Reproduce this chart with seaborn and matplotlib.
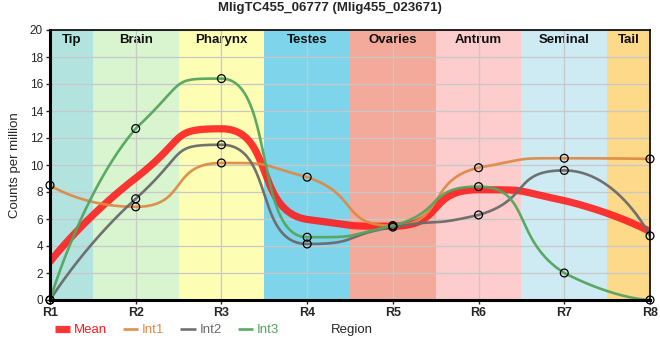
import matplotlib
matplotlib.use("Agg")
import matplotlib.pyplot as plt
import numpy as np
import pandas as pd
import seaborn as sns

# data
regions = ['R1', 'R2', 'R3', 'R4', 'R5', 'R6', 'R7', 'R8']
int1 = [8.5, 6.9, 10.15, 9.1, 5.5, 9.8, 10.5, 10.45]
int2 = [0.0, 7.5, 11.5, 4.15, 5.4, 6.3, 9.6, 4.75]
int3 = [0.0, 12.7, 16.4, 4.65, 5.5, 8.4, 2.0, 0.0]
tissues = ['Tip', 'Brain', 'Pharynx', 'Testes', 'Ovaries', 'Antrum', 'Seminal', 'Tail']
tissue_colors = ['#b3e3df', '#d8f5d0', '#fefdb4', '#7dd4eb',
                 '#f4aa9a', '#fdcccc', '#ceebf4', '#fdd98a']


def smooth_curve(y, c=0.62, n=60):
    # monotone tangents, long bezier handles (none at the two ends)
    y = np.asarray(y, float)
    x = np.arange(len(y), dtype=float)
    s = np.diff(y)
    t = np.zeros(len(y))
    for i in range(1, len(y) - 1):
        s0, s1 = s[i - 1], s[i]
        p = (s0 + s1) / 2
        t[i] = (np.sign(s0) + np.sign(s1)) * min(abs(s0), abs(s1), 0.5 * abs(p))
    xs, ys = [], []
    u = np.linspace(0, 1, n)
    b = [(1 - u) ** 3, 3 * u * (1 - u) ** 2, 3 * u ** 2 * (1 - u), u ** 3]
    last = len(y) - 2
    for i in range(len(y) - 1):
        lo, hi = min(y[i], y[i + 1]), max(y[i], y[i + 1])
        c0 = 0 if i == 0 else c
        c1 = 0 if i == last else c
        px = [x[i], x[i] + c0, x[i + 1] - c1, x[i + 1]]
        py = [y[i], np.clip(y[i] + c0 * t[i], lo, hi),
              np.clip(y[i + 1] - c1 * t[i + 1], lo, hi), y[i + 1]]
        xs.append(sum(bb * pp for bb, pp in zip(b, px)))
        ys.append(sum(bb * pp for bb, pp in zip(b, py)))
    return np.concatenate(xs), np.concatenate(ys)


mean = list(np.mean([int1, int2, int3], axis=0))

sns.set_theme(style="white")
plt.rcParams['font.family'] = ['Liberation Sans', 'DejaVu Sans']

fig = plt.figure(figsize=(6.6, 3.6), dpi=100)
ax = fig.add_axes([50 / 660, 60 / 360, 600 / 660, 270 / 360])

n_reg = len(regions)
for i, (name, col) in enumerate(zip(tissues, tissue_colors)):
    lo, hi = max(i - 0.5, 0), min(i + 0.5, n_reg - 1)
    ax.axvspan(lo, hi, color=col, lw=0, zorder=0)
    ax.text((lo + hi) / 2, 19.25, name, ha='center', va='center', fontsize=9.5,
            fontweight='bold', color='#111111', zorder=2.5)

series = [('Mean', mean, '#ff1a1a', 5.2, 0.88),
          ('Int1', int1, '#de8a45', 1.9, 0.95),
          ('Int2', int2, '#6a6a6a', 1.9, 0.95),
          ('Int3', int3, '#55a55e', 1.9, 0.95)]

for name, vals, col, lw, a in series:
    cx, cy = smooth_curve(vals)
    df = pd.DataFrame({'x': cx, 'y': cy})
    sns.lineplot(data=df, x='x', y='y', ax=ax, color=col, lw=lw, alpha=a,
                 label=name, zorder=3, sort=False, estimator=None)

for vals in [int1, int2, int3]:
    pts = pd.DataFrame({'x': np.arange(n_reg), 'y': vals})
    sns.scatterplot(data=pts, x='x', y='y', ax=ax, s=32, facecolor='none',
                    edgecolor='black', linewidth=0.9, zorder=5, clip_on=False)

ax.set_xlim(0, n_reg - 1)
ax.set_ylim(0, 20)
ax.set_xticks(range(n_reg))
ax.set_xticklabels(regions, fontweight='bold', fontsize=9)
ax.set_yticks(range(0, 21, 2))
ax.tick_params(axis='y', labelsize=8.5, length=3, width=1, direction='out', left=True, pad=2)
ax.tick_params(axis='x', length=3, width=1, direction='out', bottom=True, pad=2)
ax.grid(True, color='#c8c8c8', lw=0.9)
ax.set_axisbelow(False)
for line in ax.get_xgridlines() + ax.get_ygridlines():
    line.set_zorder(1.5)

ax.spines['left'].set_linewidth(2.2)
ax.spines['bottom'].set_linewidth(2.2)
ax.spines['top'].set_linewidth(1.2)
ax.spines['right'].set_linewidth(1.2)
for sp in ax.spines.values():
    sp.set_color('black')
    sp.set_zorder(6)

ax.set_xlabel('')
ax.set_ylabel('Counts per million', fontsize=9.5, labelpad=6)
fig.text(331 / 660, 1 - 330 / 360, 'Region', ha='left', va='center', fontsize=9.5)
fig.suptitle('MligTC455_06777 (Mlig455_023671)', fontsize=9.5, fontweight='bold',
             y=1 - 8 / 360, va='center')

leg = ax.legend(loc='center left', bbox_to_anchor=(55 / 660, 1 - 330 / 360),
                bbox_transform=fig.transFigure, ncol=4, frameon=False,
                fontsize=9.5, handlelength=1.15, handletextpad=0.3,
                columnspacing=1.2, labelcolor='linecolor',
                borderpad=0, borderaxespad=0)
for h in leg.get_lines():
    h.set_solid_capstyle('butt')

fig.savefig('out.png', dpi=100)
